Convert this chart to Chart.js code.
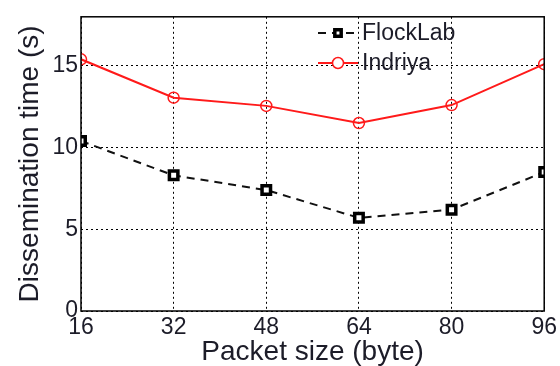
<!DOCTYPE html>
<html>
<head>
<meta charset="utf-8">
<script src="https://cdn.jsdelivr.net/npm/chart.js@4.4.0/dist/chart.umd.min.js"></script>
<style>
  html, body { margin: 0; padding: 0; background: #fff; }
  #wrap { width: 560px; height: 366px; }
</style>
</head>
<body>
<div id="wrap"><canvas id="chart" width="560" height="366"></canvas></div>
<script>
// Datos
const packetSizes = [16, 32, 48, 64, 80, 96];
const flockLab = [10.4, 8.3, 7.4, 5.7, 6.2, 8.5];
const indriya = [15.4, 13.05, 12.55, 11.5, 12.6, 15.1];
const yTicks = [0, 5, 10, 15];

const FONT = 'Arial, "Liberation Sans", sans-serif';
const TEXT = '#1c1c28';

function toPoints(values) {
    return packetSizes.map((x, i) => ({ x: x, y: values[i] }));
}

// Caja alrededor del área del gráfico y leyenda interior
const boxAndLegend = {
    id: 'boxAndLegend',
    afterDatasetsDraw(chart) {
        const { ctx, chartArea } = chart;
        ctx.save();
        ctx.strokeStyle = '#000';
        ctx.lineWidth = 1.5;
        ctx.setLineDash([]);
        ctx.strokeRect(chartArea.left, chartArea.top, chartArea.right - chartArea.left, chartArea.bottom - chartArea.top);

        const x0 = chartArea.left + 237;
        const rows = [
            { ds: chart.data.datasets[0], y: 33, r: 4.5 },
            { ds: chart.data.datasets[1], y: 63, r: 5.5 }
        ];
        ctx.font = '23px ' + FONT;
        ctx.textBaseline = 'middle';
        rows.forEach(row => {
            const ds = row.ds;
            ctx.strokeStyle = ds.borderColor;
            ctx.lineWidth = ds.borderWidth;
            ctx.setLineDash(ds.borderDash || []);
            ctx.beginPath();
            ctx.moveTo(x0, row.y);
            ctx.lineTo(x0 + 40, row.y);
            ctx.stroke();
            ctx.setLineDash([]);
            ctx.lineWidth = ds.pointBorderWidth;
            ctx.strokeStyle = ds.pointBorderColor;
            ctx.fillStyle = '#fff';
            ctx.beginPath();
            if (ds.pointStyle === 'rect') {
                const s = row.r * Math.SQRT1_2;
                ctx.rect(x0 + 20 - s, row.y - s, s * 2, s * 2);
            } else {
                ctx.arc(x0 + 20, row.y, row.r, 0, Math.PI * 2);
            }
            ctx.fill();
            ctx.stroke();
            ctx.fillStyle = TEXT;
            ctx.fillText(ds.label, x0 + 44, row.y + 1);
        });
        ctx.restore();
    }
};

function initChart() {
    const ctx = document.getElementById('chart').getContext('2d');
    new Chart(ctx, {
        type: 'line',
        data: {
            datasets: [
                {
                    label: 'FlockLab',
                    data: toPoints(flockLab),
                    borderColor: '#111',
                    backgroundColor: '#fff',
                    borderWidth: 2,
                    borderDash: [8, 6],
                    pointStyle: 'rect',
                    pointRadius: 6,
                    pointBorderWidth: 3.5,
                    pointBorderColor: '#000',
                    pointBackgroundColor: '#fff',
                    fill: false
                },
                {
                    label: 'Indriya',
                    data: toPoints(indriya),
                    borderColor: '#ff1a1a',
                    backgroundColor: '#fff',
                    borderWidth: 2,
                    pointStyle: 'circle',
                    pointRadius: 5.5,
                    pointBorderWidth: 1.5,
                    pointBorderColor: '#ff1a1a',
                    pointBackgroundColor: 'rgba(255,255,255,0)',
                    fill: false
                }
            ]
        },
        options: {
            responsive: false,
            animation: false,
            layout: { padding: { top: 12, right: 12, left: 0, bottom: 0 } },
            plugins: {
                legend: { display: false },
                tooltip: { enabled: false }
            },
            scales: {
                x: {
                    type: 'linear',
                    min: 16,
                    max: 96,
                    afterBuildTicks: scale => { scale.ticks = packetSizes.map(v => ({ value: v })); },
                    afterFit: scale => { scale.height = 55; },
                    grid: { color: '#000', lineWidth: 1, drawTicks: false },
                    border: { display: false, dash: [2, 3] },
                    ticks: { color: TEXT, font: { size: 23, family: FONT }, padding: 3 },
                    title: {
                        display: true,
                        text: 'Packet size (byte)',
                        color: TEXT,
                        font: { size: 28, family: FONT },
                        padding: { top: 0, bottom: -3 }
                    }
                },
                y: {
                    min: 0,
                    max: 18,
                    afterBuildTicks: scale => { scale.ticks = yTicks.map(v => ({ value: v })); },
                    afterFit: scale => { scale.width = 81; },
                    grid: { color: '#000', lineWidth: 1, drawTicks: false },
                    border: { display: false, dash: [2, 3] },
                    ticks: { color: TEXT, font: { size: 23, family: FONT }, padding: 3 },
                    title: {
                        display: true,
                        text: 'Dissemination time (s)',
                        color: TEXT,
                        font: { size: 28, family: FONT },
                        padding: { top: 13, bottom: 0 }
                    }
                }
            }
        },
        plugins: [boxAndLegend]
    });
}

document.addEventListener('DOMContentLoaded', initChart);
</script>
</body>
</html>
